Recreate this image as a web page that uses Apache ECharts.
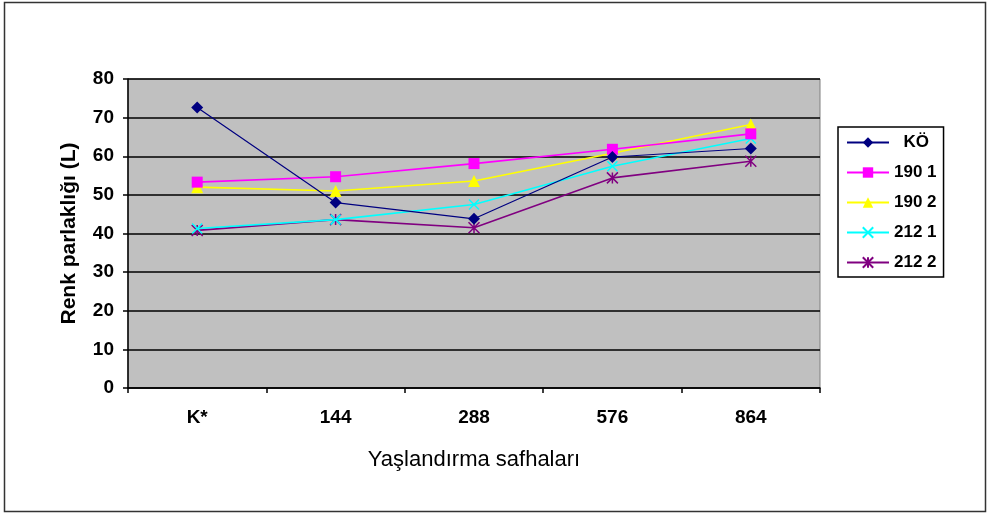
<!DOCTYPE html>
<html>
<head>
<meta charset="utf-8">
<script src="https://cdn.jsdelivr.net/npm/echarts@6/dist/echarts.min.js"></script>
<style>
  html, body { margin: 0; padding: 0; background: #fff; }
  #chart { width: 990px; height: 515px; }
</style>
</head>
<body>
<div id="chart"></div>
<script>
// Aging stages (x categories)
const stages = ['K*', '144', '288', '576', '864'];

// Colour brightness (L) per treatment
const seriesNames = ['KÖ', '190 1', '190 2', '212 1', '212 2'];
const valuesKO   = [72.6, 48.0, 43.8, 59.8, 62.0];
const values1901 = [53.3, 54.7, 58.1, 61.8, 65.8];
const values1902 = [52.0, 51.0, 53.6, 60.8, 68.2];
const values2121 = [41.3, 43.6, 47.5, 57.4, 64.6];
const values2122 = [40.8, 43.6, 41.5, 54.4, 58.7];

// Y axis ticks
const yMin = 0, yMax = 80, yStep = 10;

const colors = ['#000080', '#FF00FF', '#FFFF00', '#00FFFF', '#800080'];
const symbols = [
  'diamond',
  'rect',
  'triangle',
  'path://M0,0L10,10M10,0L0,10',
  'path://M0,0L10,10M10,0L0,10M5,0L5,10'
];
const symbolSizes = [12, 11, 12, 10, 11];
const lineWidths = [1.2, 1.6, 1.6, 1.6, 1.6];
const allValues = [valuesKO, values1901, values1902, values2121, values2122];

const font = 'Liberation Sans, Arial, sans-serif';

const chart = echarts.init(document.getElementById('chart'), null, { renderer: 'canvas' });

const series = seriesNames.map((name, i) => {
  const outline = i >= 3;
  return {
    name: name,
    type: 'line',
    data: allValues[i],
    symbol: symbols[i],
    symbolSize: symbolSizes[i],
    showAllSymbol: true,
    z: 10 - i,
    lineStyle: { color: colors[i], width: lineWidths[i] },
    itemStyle: outline
      ? { color: colors[i], borderColor: colors[i], borderWidth: 1.5 }
      : { color: colors[i], borderWidth: 0 },
    emphasis: { disabled: true },
    animation: false
  };
});

chart.setOption({
  backgroundColor: '#ffffff',
  animation: false,
  grid: {
    left: 128, right: 170, top: 79, bottom: 127,
    show: true,
    backgroundColor: '#C0C0C0',
    borderColor: '#808080',
    borderWidth: 1
  },
  legend: {
    orient: 'vertical',
    left: 838,
    top: 127,
    padding: [7, 7, 6, 8],
    itemGap: 13,
    itemWidth: 42,
    itemHeight: 13,
    borderColor: '#000',
    borderWidth: 1.5,
    backgroundColor: '#fff',
    textStyle: { fontFamily: font, fontWeight: 'bold', fontSize: 17, color: '#000' },
    formatter: n => n === 'KÖ' ? '  KÖ' : n,
    data: seriesNames
  },
  xAxis: {
    type: 'category',
    data: stages,
    boundaryGap: true,
    name: 'Yaşlandırma safhaları',
    nameLocation: 'middle',
    nameGap: 61,
    nameTextStyle: { fontFamily: font, fontSize: 22, color: '#000' },
    axisLine: { show: true, lineStyle: { color: '#000', width: 1.5 } },
    axisTick: { show: true, alignWithLabel: false, length: 5, lineStyle: { color: '#000', width: 1.5 } },
    axisLabel: { fontFamily: font, fontWeight: 'bold', fontSize: 19, color: '#000', margin: 20 },
    splitLine: { show: false }
  },
  yAxis: {
    type: 'value',
    min: yMin, max: yMax, interval: yStep,
    name: 'Renk parlaklığı (L)',
    nameLocation: 'middle',
    nameGap: 48,
    nameRotate: 90,
    nameTextStyle: { fontFamily: font, fontWeight: 'bold', fontSize: 21, color: '#000' },
    axisLine: { show: true, lineStyle: { color: '#000', width: 1.5 } },
    axisTick: { show: true, length: 5, lineStyle: { color: '#000', width: 1.5 } },
    axisLabel: { fontFamily: font, fontWeight: 'bold', fontSize: 19, color: '#000', margin: 14 },
    splitLine: { show: true, lineStyle: { color: '#000', width: 1.5 } }
  },
  graphic: [
    {
      type: 'rect',
      shape: { x: 4.5, y: 2.5, width: 981, height: 509 },
      style: { fill: 'none', stroke: '#333', lineWidth: 1.5 },
      silent: true
    }
  ],
  series: series
});
</script>
</body>
</html>
